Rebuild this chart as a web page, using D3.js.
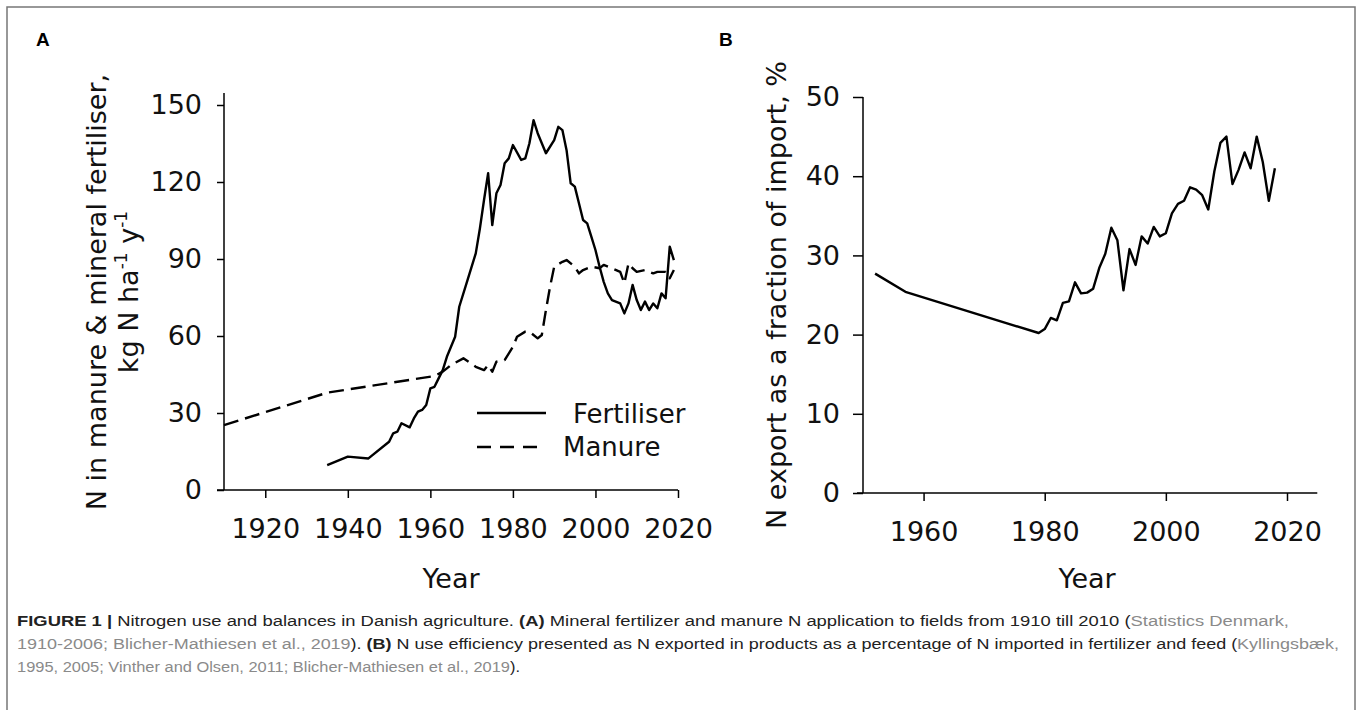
<!DOCTYPE html>
<html><head><meta charset="utf-8">
<script src="https://cdn.jsdelivr.net/npm/d3@7"></script>
<style>
html,body{margin:0;padding:0;background:#fff;}
svg{display:block;}
</style></head>
<body>
<svg id="c" width="1358" height="710"></svg>
<script>
// ---------- DATA ----------
// Panel A: N in mineral fertiliser (kg N/ha/y)
const fertYears = [1935,1940,1945,1950,1951,1952,1953,1955,1956,1957,1958,1959,1960,1961,1962,1963,1964,1966,1967,1969,1971,1972,1973,1974,1975,1976,1977,1978,1979,1980,1982,1983,1984,1985,1986,1987,1988,1990,1991,1992,1993,1994,1995,1996,1997,1998,1999,2000,2001,2002,2003,2004,2006,2007,2008,2009,2010,2011,2012,2013,2014,2015,2016,2017,2018,2019];
const fertValues = [9.7,13,12.3,18.8,22.1,22.7,26,24.4,27.9,30.5,31.2,33.1,39.6,40.2,43.5,46.7,51.9,59.7,71.4,81.8,92.2,101.9,113,123.4,103.2,115.6,118.8,127.3,129.2,134.4,128.6,129.2,135.1,144.1,139,135.1,131.2,136.3,141.5,140.2,132.4,119.5,118.2,111.7,105.2,103.9,98.7,93.5,87,81.1,76.6,74,72.7,68.8,72.7,79.9,74,70.1,73.4,70.1,72.7,70.8,76.6,74.7,94.8,89.6];
// Panel A: N in manure
const manureYears = [1910,1935,1961,1963,1965,1968,1971,1973,1974,1975,1976,1978,1980,1981,1983,1984,1986,1987,1988,1989,1990,1992,1993,1995,1996,1997,1999,2001,2002,2004,2006,2007,2008,2009,2010,2012,2014,2015,2017,2018,2019];
const manureValues = [25.3,37.9,44.4,46.1,48.7,51.3,48,46.7,48.7,46.1,50,50.6,55.8,59.7,61.7,61.7,59.1,60.4,70.1,79.2,87,88.9,89.6,87,84.4,85.7,87,86.4,87.7,86.4,85,80.5,88.3,86.4,85,85.7,84.4,85,85,82.5,85.7];
// Panel B: N export as a fraction of import (%)
const nueYears = [1952,1957,1979,1980,1981,1982,1983,1984,1985,1986,1987,1988,1989,1990,1991,1992,1993,1994,1995,1996,1997,1998,1999,2000,2001,2002,2003,2004,2005,2006,2007,2008,2009,2010,2011,2012,2013,2014,2015,2016,2017,2018];
const nueValues = [27.7,25.4,20.2,20.7,22.1,21.8,24,24.2,26.6,25.2,25.3,25.8,28.4,30.2,33.5,31.9,25.6,30.8,28.8,32.4,31.5,33.6,32.4,32.8,35.3,36.5,36.9,38.6,38.3,37.6,35.8,40.6,44.2,45,39,40.8,43,41,45,41.8,36.9,41];
// Tick labels
const ticksAX = [1920,1940,1960,1980,2000,2020];
const ticksAY = [0,30,60,90,120,150];
const ticksBX = [1960,1980,2000,2020];
const ticksBY = [0,10,20,30,40,50];
const legendLabels = ["Fertiliser","Manure"];

// ---------- DRAW ----------
const svg = d3.select("#c");
const FONT = "'DejaVu Sans', Verdana, sans-serif";
const TICKFS = 27;

// outer frame
svg.append("rect").attr("x",7).attr("y",7).attr("width",1348).attr("height",720)
  .attr("fill","none").attr("stroke","#777").attr("stroke-width",1.5);

function styleAxis(g){
  g.selectAll("path.domain").remove();
  g.selectAll("line").attr("stroke","#000").attr("stroke-width",1.5);
  g.selectAll("text").attr("font-family",FONT).attr("font-size",TICKFS).attr("fill","#111");
}

// ---- Panel A ----
const xA = d3.scaleLinear().domain([1910,2020]).range([224,678]);
const yA = d3.scaleLinear().domain([0,150]).range([490,105]);

const gAx = svg.append("g").attr("transform",`translate(0,${yA(0)})`)
  .call(d3.axisBottom(xA).tickValues(ticksAX).tickFormat(d3.format("d")).tickSize(8).tickPadding(21));
styleAxis(gAx);
svg.append("line").attr("x1",xA(1910)-7).attr("x2",xA(2020)).attr("y1",yA(0)).attr("y2",yA(0))
  .attr("stroke","#000").attr("stroke-width",1.5);

const gAy = svg.append("g").attr("transform",`translate(${xA(1910)},0)`)
  .call(d3.axisLeft(yA).tickValues(ticksAY).tickSize(7).tickPadding(15));
styleAxis(gAy);
svg.append("line").attr("x1",xA(1910)).attr("x2",xA(1910)).attr("y1",yA(0)).attr("y2",yA(150)-12)
  .attr("stroke","#000").attr("stroke-width",1.5);

const lineA = d3.line().x(d=>xA(d[0])).y(d=>yA(d[1]));
svg.append("path").datum(manureYears.map((y,i)=>[y,manureValues[i]]))
  .attr("d",lineA).attr("fill","none").attr("stroke","#000").attr("stroke-width",2.4)
  .attr("stroke-dasharray","15,7").attr("stroke-linejoin","round");
svg.append("path").datum(fertYears.map((y,i)=>[y,fertValues[i]]))
  .attr("d",lineA).attr("fill","none").attr("stroke","#000").attr("stroke-width",2.4)
  .attr("stroke-linejoin","round");

// legend
svg.append("line").attr("x1",477).attr("x2",546).attr("y1",413).attr("y2",413)
  .attr("stroke","#000").attr("stroke-width",2.4);
svg.append("line").attr("x1",477).attr("x2",537).attr("y1",447).attr("y2",447)
  .attr("stroke","#000").attr("stroke-width",2.4).attr("stroke-dasharray","14,9");
svg.append("text").attr("x",573).attr("y",423).text(legendLabels[0])
  .attr("font-family",FONT).attr("font-size",26).attr("fill","#111");
svg.append("text").attr("x",563).attr("y",456).text(legendLabels[1])
  .attr("font-family",FONT).attr("font-size",26).attr("fill","#111");

// axis titles A
svg.append("text").attr("x",(xA(1910)+xA(2020))/2).attr("y",588).attr("text-anchor","middle")
  .attr("font-family",FONT).attr("font-size",TICKFS).attr("fill","#111").text("Year");
const tA = svg.append("text").attr("transform","translate(106,292) rotate(-90)").attr("text-anchor","middle")
  .attr("font-family",FONT).attr("font-size",TICKFS).attr("fill","#111");
tA.append("tspan").attr("x",0).attr("y",0).text("N in manure & mineral fertiliser,");
const tA2 = svg.append("text").attr("transform","translate(138,292) rotate(-90)").attr("text-anchor","middle")
  .attr("font-family",FONT).attr("font-size",TICKFS).attr("fill","#111");
tA2.append("tspan").text("kg N ha");
tA2.append("tspan").attr("font-size",17).attr("dy",-11).text("-1");
tA2.append("tspan").attr("dy",11).text(" y");
tA2.append("tspan").attr("font-size",17).attr("dy",-11).text("-1");

// ---- Panel B ----
const xB = d3.scaleLinear().domain([1950,2020]).range([863,1287]);
const yB = d3.scaleLinear().domain([0,50]).range([493,97]);

const gBx = svg.append("g").attr("transform",`translate(0,${yB(0)})`)
  .call(d3.axisBottom(xB).tickValues(ticksBX).tickFormat(d3.format("d")).tickSize(8).tickPadding(21));
styleAxis(gBx);
svg.append("line").attr("x1",xB(1950)-6).attr("x2",xB(2025)).attr("y1",yB(0)).attr("y2",yB(0))
  .attr("stroke","#000").attr("stroke-width",1.5);
const gBy = svg.append("g").attr("transform",`translate(${xB(1950)},0)`)
  .call(d3.axisLeft(yB).tickValues(ticksBY).tickSize(10).tickPadding(13));
styleAxis(gBy);
svg.append("line").attr("x1",xB(1950)).attr("x2",xB(1950)).attr("y1",yB(0)).attr("y2",yB(50))
  .attr("stroke","#000").attr("stroke-width",1.5);

const lineB = d3.line().x(d=>xB(d[0])).y(d=>yB(d[1]));
svg.append("path").datum(nueYears.map((y,i)=>[y,nueValues[i]]))
  .attr("d",lineB).attr("fill","none").attr("stroke","#000").attr("stroke-width",2.4)
  .attr("stroke-linejoin","round");

svg.append("text").attr("x",(xB(1950)-6+xB(2025))/2).attr("y",588).attr("text-anchor","middle")
  .attr("font-family",FONT).attr("font-size",TICKFS).attr("fill","#111").text("Year");
svg.append("text").attr("transform","translate(786,295) rotate(-90)").attr("text-anchor","middle")
  .attr("font-family",FONT).attr("font-size",TICKFS).attr("fill","#111").text("N export as a fraction of import, %");

// panel letters
svg.append("text").attr("x",36).attr("y",46).text("A")
  .attr("font-family","'Liberation Sans', Arial, sans-serif").attr("font-weight","bold").attr("font-size",19);
svg.append("text").attr("x",719).attr("y",46).text("B")
  .attr("font-family","'Liberation Sans', Arial, sans-serif").attr("font-weight","bold").attr("font-size",19);

// ---- caption ----
const GRAY = "#8a8a8a";
const capLines = [
  [["FIGURE 1 |","b"],[" Nitrogen use and balances in Danish agriculture. ",""],["(A)","b"],[" Mineral fertilizer and manure N application to fields from 1910 till 2010 (",""],["Statistics Denmark,","g"]],
  [["1910-2006; Blicher-Mathiesen et al., 2019","g"],["). ",""],["(B)","b"],[" N use efficiency presented as N exported in products as a percentage of N imported in fertilizer and feed (",""],["Kyllingsbæk,","g"]],
  [["1995, 2005; Vinther and Olsen, 2011; Blicher-Mathiesen et al., 2019","g"],[").",""]]
];
const capWidths = [1272, 1322, 503];
capLines.forEach((ln,i)=>{
  const t = svg.append("text").attr("x",17).attr("y",626+i*23)
    .attr("font-family","'Liberation Sans', Arial, sans-serif").attr("font-size",15.5).attr("fill","#222")
    .attr("textLength",capWidths[i]).attr("lengthAdjust","spacingAndGlyphs").attr("xml:space","preserve");
  ln.forEach(([s,k])=>{
    const sp = t.append("tspan").text(s);
    if(k==="b") sp.attr("font-weight","bold");
    if(k==="g") sp.attr("fill",GRAY);
  });
});
</script>
</body></html>
